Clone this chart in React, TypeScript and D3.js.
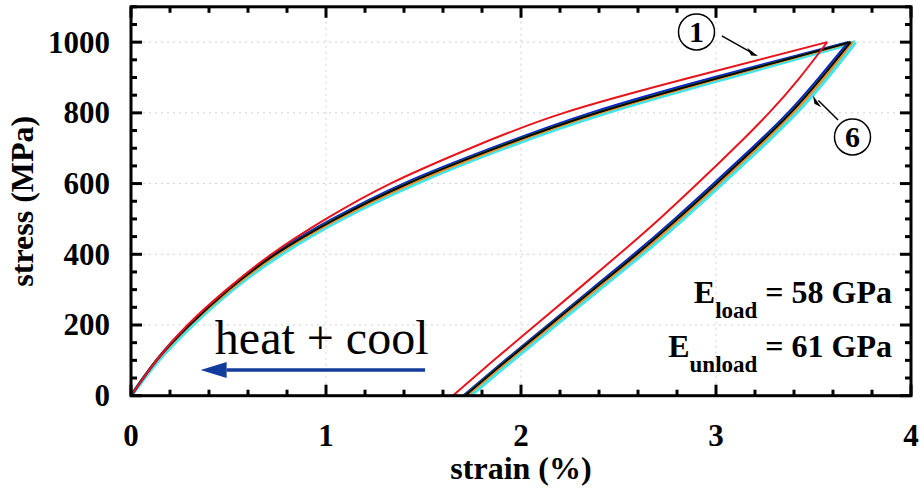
import React from "react";
import * as d3 from "d3";

// stress levels (MPa) for loading branch and unloading branch
const loadStress = [0, 100, 200, 300, 400, 500, 600, 700, 800, 900, 1000];
const unloadStress = [0, 100, 200, 300, 400, 500, 600, 700, 800, 900, 1000];

// strain (%) per cycle, loading branch
const load1 = [0, 0.13, 0.29, 0.49, 0.72, 1.0, 1.33, 1.74, 2.22, 2.87, 3.57];
const load2 = [0, 0.13, 0.295, 0.495, 0.73, 1.035, 1.4, 1.85, 2.36, 2.99, 3.68];
const load3 = [0, 0.13, 0.3, 0.5, 0.74, 1.045, 1.415, 1.865, 2.385, 3.015, 3.69];
const load4 = [0, 0.135, 0.305, 0.51, 0.755, 1.065, 1.44, 1.89, 2.41, 3.04, 3.7];
const load5 = [0, 0.13, 0.3, 0.5, 0.74, 1.05, 1.42, 1.87, 2.39, 3.02, 3.69];
const load6 = [0, 0.14, 0.315, 0.52, 0.77, 1.08, 1.46, 1.91, 2.435, 3.065, 3.715];

// strain (%) per cycle, unloading branch (ascending stress order)
const unload1 = [1.65, 1.86, 2.075, 2.29, 2.503, 2.71, 2.905, 3.093, 3.272, 3.43, 3.57];
const unload2 = [1.705, 1.92, 2.14, 2.36, 2.58, 2.79, 2.99, 3.185, 3.37, 3.53, 3.68];
const unload3 = [1.71, 1.925, 2.146, 2.368, 2.59, 2.8, 3.0, 3.195, 3.38, 3.54, 3.69];
const unload4 = [1.725, 1.94, 2.162, 2.384, 2.606, 2.816, 3.016, 3.211, 3.396, 3.556, 3.7];
const unload5 = [1.713, 1.928, 2.149, 2.371, 2.593, 2.803, 3.003, 3.198, 3.383, 3.543, 3.69];
const unload6 = [1.74, 1.955, 2.177, 2.399, 2.621, 2.831, 3.031, 3.226, 3.411, 3.571, 3.715];

const xMajorTicks = [0, 1, 2, 3, 4];
const yMajorTicks = [0, 200, 400, 600, 800, 1000];
const xGrid = [1, 2, 3];
const yGrid = [200, 400, 600, 800, 1000];

const W = 924;
const H = 490;
const serif = "Liberation Serif, Times New Roman, Times, serif";

export default function App() {
  const x = d3.scaleLinear().domain([0, 4]).range([131, 911]);
  const y = d3.scaleLinear().domain([0, 1100]).range([395.7, 6.8]);
  const line = d3
    .line<[number, number]>()
    .x((d) => x(d[0]))
    .y((d) => y(d[1]))
    .curve(d3.curveNatural);

  const cycles = [
    { load: load6, unload: unload6, color: "#3fe6ee", w: 4 },
    { load: load4, unload: unload4, color: "#ff8a1c", w: 2 },
    { load: load2, unload: unload2, color: "#0a1fd6", w: 2.6 },
    { load: load3, unload: unload3, color: "#1c6e22", w: 2.2 },
    { load: load5, unload: unload5, color: "#000000", w: 1.8 },
    { load: load1, unload: unload1, color: "#e8141c", w: 2 },
  ];

  const xMinor = d3.range(0, 4.0001, 0.2).filter((v) => Math.abs(v - Math.round(v)) > 1e-6);
  const yMinor = d3.range(0, 1100.001, 50).filter((v) => v % 200 !== 0);

  const x0 = x(0), x1 = x(4), yb = y(0), yt = y(1100);

  return (
    <svg width={W} height={H} style={{ position: "absolute", left: 0, top: 0, background: "#fff" }}>
      <rect x={0} y={0} width={W} height={H} fill="#fff" />
      {/* grid */}
      {yGrid.map((v) => (
        <line key={"gy" + v} x1={x0} x2={x1} y1={y(v)} y2={y(v)} stroke="#cfcfcf" strokeWidth={1} strokeDasharray="2,4" />
      ))}
      {xGrid.map((v) => (
        <line key={"gx" + v} x1={x(v)} x2={x(v)} y1={yb} y2={yt} stroke="#cfcfcf" strokeWidth={1} strokeDasharray="2,4" />
      ))}

      {/* curves */}
      {cycles.map((c, i) => (
        <g key={"c" + i}>
          <path d={line(loadStress.map((s, k) => [c.load[k], s]) as [number, number][]) || ""} fill="none" stroke={c.color} strokeWidth={c.w} strokeLinejoin="round" />
          <path d={line(unloadStress.map((s, k) => [c.unload[k], s]) as [number, number][]) || ""} fill="none" stroke={c.color} strokeWidth={c.w} strokeLinejoin="round" />
        </g>
      ))}

      {/* frame and ticks */}
      <rect x={x0} y={yt} width={x1 - x0} height={yb - yt} fill="none" stroke="#000" strokeWidth={3} />
      {xMajorTicks.map((v) => (
        <g key={"xt" + v}>
          <line x1={x(v)} x2={x(v)} y1={yb} y2={yb - 11} stroke="#000" strokeWidth={3} />
          <line x1={x(v)} x2={x(v)} y1={yt} y2={yt + 11} stroke="#000" strokeWidth={3} />
          <text x={x(v)} y={446} textAnchor="middle" fontFamily={serif} fontWeight="bold" fontSize={31}>{v}</text>
        </g>
      ))}
      {xMinor.map((v) => (
        <g key={"xm" + v}>
          <line x1={x(v)} x2={x(v)} y1={yb} y2={yb - 6} stroke="#000" strokeWidth={3} />
          <line x1={x(v)} x2={x(v)} y1={yt} y2={yt + 6} stroke="#000" strokeWidth={3} />
        </g>
      ))}
      {yMajorTicks.map((v) => (
        <g key={"yt" + v}>
          <line x1={x0} x2={x0 + 11} y1={y(v)} y2={y(v)} stroke="#000" strokeWidth={3} />
          <line x1={x1} x2={x1 - 11} y1={y(v)} y2={y(v)} stroke="#000" strokeWidth={3} />
          <text x={110} y={y(v) + 10.5} textAnchor="end" fontFamily={serif} fontWeight="bold" fontSize={31}>{v}</text>
        </g>
      ))}
      {yMinor.map((v) => (
        <g key={"ym" + v}>
          <line x1={x0} x2={x0 + 6} y1={y(v)} y2={y(v)} stroke="#000" strokeWidth={3} />
          <line x1={x1} x2={x1 - 6} y1={y(v)} y2={y(v)} stroke="#000" strokeWidth={3} />
        </g>
      ))}

      {/* axis titles */}
      <text x={(x0 + x1) / 2} y={479} textAnchor="middle" fontFamily={serif} fontWeight="bold" fontSize={32}>strain (%)</text>
      <text transform={`translate(33,${(yb + yt) / 2}) rotate(-90)`} textAnchor="middle" fontFamily={serif} fontWeight="bold" fontSize={32}>stress (MPa)</text>

      {/* annotations 1 and 6 */}
      <line x1={x(3.03)} y1={y(1018)} x2={x(3.18)} y2={y(971)} stroke="#000" strokeWidth={1.5} />
      <path d={`M${x(3.215)},${y(961)} L${x(3.16)},${y(984)} L${x(3.18)},${y(962)} z`} fill="#000" />
      <circle cx={x(2.9)} cy={y(1029)} r={18} fill="#fff" stroke="#000" strokeWidth={1.5} />
      <text x={x(2.9)} y={y(1029) + 10} textAnchor="middle" fontFamily={serif} fontWeight="bold" fontSize={30}>1</text>
      <line x1={x(3.626)} y1={y(780)} x2={x(3.525)} y2={y(835)} stroke="#000" strokeWidth={1.5} />
      <path d={`M${x(3.497)},${y(850)} L${x(3.54)},${y(816)} L${x(3.505)},${y(826)} z`} fill="#000" />
      <circle cx={x(3.7)} cy={y(732)} r={18} fill="#fff" stroke="#000" strokeWidth={1.5} />
      <text x={x(3.7)} y={y(732) + 10} textAnchor="middle" fontFamily={serif} fontWeight="bold" fontSize={30}>6</text>

      {/* heat + cool */}
      <text x={x(0.43)} y={y(118)} fontFamily={serif} fontSize={48}>heat + cool</text>
      <line x1={x(1.508)} y1={y(72.7)} x2={x(0.49)} y2={y(72.7)} stroke="#123c9c" strokeWidth={3.5} />
      <path d={`M${x(0.357)},${y(72.7)} L${x(0.357) + 26},${y(72.7) - 8} L${x(0.357) + 26},${y(72.7) + 8} z`} fill="#123c9c" />

      {/* moduli */}
      <text x={892} y={303} textAnchor="end" fontFamily={serif} fontWeight="bold" fontSize={32}>
        E<tspan dy={15} fontSize={23}>load</tspan><tspan dy={-15}> = 58 GPa</tspan>
      </text>
      <text x={892} y={357} textAnchor="end" fontFamily={serif} fontWeight="bold" fontSize={32}>
        E<tspan dy={15} fontSize={23}>unload</tspan><tspan dy={-15}> = 61 GPa</tspan>
      </text>
    </svg>
  );
}
